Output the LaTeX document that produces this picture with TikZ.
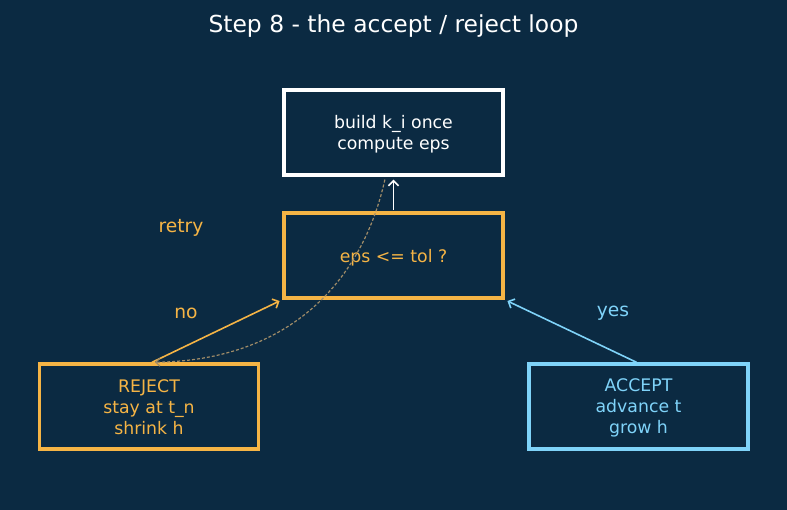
\documentclass[tikz,border=0pt]{standalone}
\usepackage{fontspec}
\setmainfont{DejaVu Sans}
\usetikzlibrary{arrows.meta}
\definecolor{bg}{HTML}{0B2A42}
\definecolor{org}{HTML}{F5B445}
\definecolor{blu}{HTML}{7FD3F9}
\definecolor{dsh}{HTML}{A08C68}
\begin{document}
\begin{tikzpicture}[x=1pt,y=-1pt,
  box/.style={draw,line width=3.4pt,minimum width=219pt,minimum height=85pt,align=center,inner sep=0pt,
    font=\fontsize{17.3}{21}\selectfont},
  lbl/.style={font=\fontsize{18.7}{22}\selectfont},
  arr/.style={-{Straight Barb[length=5pt,width=10pt]},line width=1.6pt}]
\fill[bg] (0,0) rectangle (787,510);
\useasboundingbox (0,0) rectangle (787,510);
\node[white,font=\fontsize{23.4}{26}\selectfont] (title) at (393.5,26) {Step 8 - the accept / reject loop};
\node[box,draw=white,text=white] (top) at (393.5,132.5) {\rule{0pt}{17pt}build k\_i once\\compute eps};
\node[box,draw=org,text=org] (mid) at (393.5,255.5) {\rule{0pt}{17pt}eps <= tol ?};
\node[box,draw=org,text=org] (rej) at (149,406.5) {\rule{0pt}{14pt}REJECT\\stay at t\_n\\shrink h};
\node[box,draw=blu,text=blu] (acc) at (638.5,406.5) {\rule{0pt}{16pt}ACCEPT\\advance t\\grow h};
\node[lbl,text=org] (retry) at (181,228) {retry};
\node[lbl,text=org] (no) at (186,313) {no};
\node[lbl,text=blu] (yes) at (613,313) {yes};
\draw[arr,white,shorten <=1.5pt,shorten >=3pt] (mid.north) -- (top.south);
\draw[arr,org,shorten >=3pt] ([xshift=3pt]rej.north) -- (mid.south west);
\draw[arr,blu,shorten >=3pt] ([xshift=-2pt]acc.north) -- (mid.south east);
\draw[dsh,dash pattern=on 3pt off 2pt,line width=1.2pt,-{Straight Barb[length=4pt,width=8pt]},
  shorten <=3pt,shorten >=1pt]
  ([xshift=-8pt]top.south) .. controls (365,270) and (300,360) .. ([xshift=5pt]rej.north);
\end{tikzpicture}
\end{document}
